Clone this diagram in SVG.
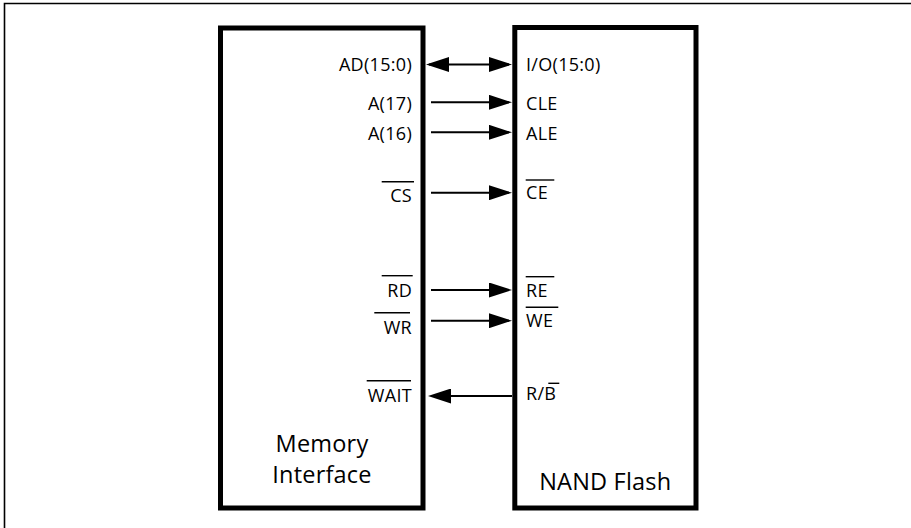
<svg xmlns="http://www.w3.org/2000/svg" width="911" height="528" viewBox="0 0 911 528">
<style>
.box{fill:#fff;stroke:#000;stroke-width:5}
.lbl{font-family:"Open Sans","Noto Sans",sans-serif;font-size:18px;fill:#000;letter-spacing:0.3px}
.big{font-family:"Open Sans","Noto Sans",sans-serif;font-size:23.5px;fill:#000;letter-spacing:0.2px;text-anchor:middle}
.end{text-anchor:end}
.ov{stroke:#000;stroke-width:1.4}
.wire{stroke:#000;stroke-width:2;fill:none}
</style>
<defs>
<marker id="ah" markerUnits="userSpaceOnUse" markerWidth="23" markerHeight="15" refX="20" refY="7.5" orient="auto-start-reverse">
<path d="M0,0 L23,7.5 L0,15 Z" fill="#000"/>
</marker>
</defs>
<path d="M4.5,528 V3.5 H911" fill="none" stroke="#000" stroke-width="1.6"/>
<g id="memory-interface">
<rect class="box" x="220.5" y="28" width="202.5" height="480"/>
<text class="lbl end" x="412" y="71">AD(15:0)</text>
<text class="lbl end" x="412" y="109.5">A(17)</text>
<text class="lbl end" x="412" y="139.5">A(16)</text>
<text class="lbl end" x="412" y="202">CS</text>
<line class="ov" x1="381.7" y1="181.7" x2="414" y2="181.7"/>
<text class="lbl end" x="412" y="296.7">RD</text>
<line class="ov" x1="381.7" y1="275.7" x2="412.7" y2="275.7"/>
<text class="lbl end" x="412" y="334.3">WR</text>
<line class="ov" x1="374.3" y1="312.7" x2="410" y2="312.7"/>
<text class="lbl end" x="412" y="401.7">WAIT</text>
<line class="ov" x1="366.7" y1="380.7" x2="411" y2="380.7"/>
<text class="big" x="322" y="451.7">Memory</text>
<text class="big" x="322" y="483.3">Interface</text>
</g>
<g id="nand-flash">
<rect class="box" x="514.8" y="27.5" width="181.2" height="480.5"/>
<text class="lbl" x="526" y="71">I/O(15:0)</text>
<text class="lbl" x="526" y="109.5">CLE</text>
<text class="lbl" x="526" y="139.5">ALE</text>
<text class="lbl" x="526" y="199">CE</text>
<line class="ov" x1="525.7" y1="180" x2="554.3" y2="180"/>
<text class="lbl" x="526" y="296.7">RE</text>
<line class="ov" x1="525.7" y1="276.7" x2="554.3" y2="276.7"/>
<text class="lbl" x="526" y="326.7">WE</text>
<line class="ov" x1="525.7" y1="307.3" x2="558.3" y2="307.3"/>
<text class="lbl" x="526" y="400">R/B</text>
<line class="ov" x1="548.3" y1="383.3" x2="559.3" y2="383.3"/>
<text class="big" x="605.3" y="490">NAND Flash</text>
</g>
<g id="connectors">
<line class="wire" x1="429" y1="64.5" x2="509" y2="64.5" marker-start="url(#ah)" marker-end="url(#ah)"/>
<line class="wire" x1="431" y1="102.3" x2="509" y2="102.3" marker-end="url(#ah)"/>
<line class="wire" x1="431" y1="132.3" x2="509" y2="132.3" marker-end="url(#ah)"/>
<line class="wire" x1="431" y1="192.7" x2="509" y2="192.7" marker-end="url(#ah)"/>
<line class="wire" x1="431" y1="290" x2="509" y2="290" marker-end="url(#ah)"/>
<line class="wire" x1="431" y1="320.7" x2="509" y2="320.7" marker-end="url(#ah)"/>
<line class="wire" x1="512" y1="396" x2="431" y2="396" marker-end="url(#ah)"/>
</g>
</svg>
